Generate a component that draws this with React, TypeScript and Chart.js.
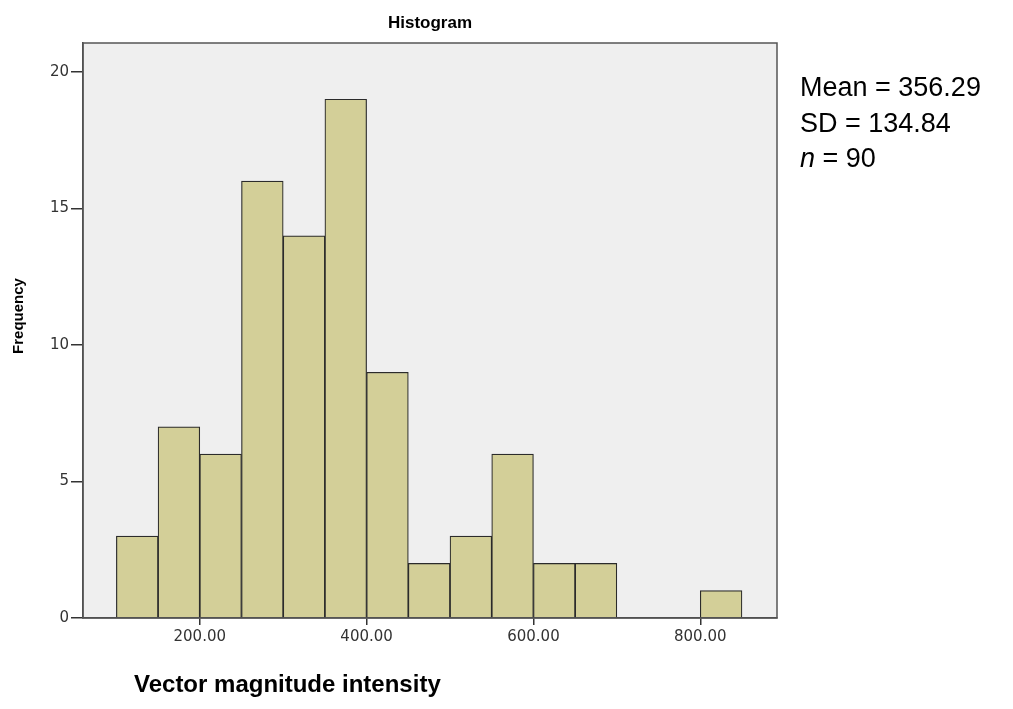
import React, { useEffect, useRef } from "react";
import { Chart, registerables } from "chart.js";

Chart.register(...registerables);

const binStarts = [100, 150, 200, 250, 300, 350, 400, 450, 500, 550, 600, 650, 700, 750, 800];
const binWidth = 50;
const frequencies = [3, 7, 6, 16, 14, 19, 9, 2, 3, 6, 2, 2, 0, 0, 1];
const xTickValues = [200, 400, 600, 800];
const yTickValues = [0, 5, 10, 15, 20];
const statsLines = ["Mean = 356.29", "SD = 134.84", "n = 90"];

const FONT = "Arial, 'Liberation Sans', sans-serif";
const TICK_FONT = "'DejaVu Sans', sans-serif";

const decorPlugin = {
  id: "decor",
  beforeDraw(chart: any) {
    const { ctx, chartArea } = chart;
    ctx.save();
    ctx.fillStyle = "#efefef";
    ctx.fillRect(chartArea.left, chartArea.top, chartArea.right - chartArea.left, chartArea.bottom - chartArea.top);
    ctx.restore();
  },
  afterDraw(chart: any) {
    const { ctx, chartArea } = chart;
    ctx.save();
    ctx.strokeStyle = "#555";
    ctx.lineWidth = 1.5;
    ctx.strokeRect(chartArea.left, chartArea.top, chartArea.right - chartArea.left, chartArea.bottom - chartArea.top);

    ctx.fillStyle = "#000";
    ctx.textAlign = "center";
    ctx.textBaseline = "middle";
    ctx.font = `bold 17px ${FONT}`;
    ctx.fillText("Histogram", (chartArea.left + chartArea.right) / 2, 23);

    ctx.save();
    ctx.translate(19, 316);
    ctx.rotate(-Math.PI / 2);
    ctx.font = `bold 15px ${FONT}`;
    ctx.fillText("Frequency", 0, 0);
    ctx.restore();

    ctx.textAlign = "left";
    ctx.textBaseline = "alphabetic";
    ctx.font = `bold 24px ${FONT}`;
    ctx.fillText("Vector magnitude intensity", 134, 692);

    const size = 27;
    ctx.font = `${size}px ${FONT}`;
    const x0 = chartArea.right + 23;
    const baselines = [96, 131.5, 167];
    statsLines.forEach((line, i) => {
      if (line.startsWith("n ")) {
        ctx.font = `italic ${size}px ${FONT}`;
        ctx.fillText("n", x0, baselines[i]);
        const w = ctx.measureText("n").width;
        ctx.font = `${size}px ${FONT}`;
        ctx.fillText(line.slice(1), x0 + w, baselines[i]);
      } else {
        ctx.fillText(line, x0, baselines[i]);
      }
    });
    ctx.restore();
  },
};

export default function App() {
  const canvasRef = useRef<HTMLCanvasElement | null>(null);

  useEffect(() => {
    document.body.style.margin = "0";
    const canvas = canvasRef.current!;
    const chart = new Chart(canvas, {
      type: "bar",
      data: {
        datasets: [
          {
            data: binStarts.map((s, i) => ({ x: s + binWidth / 2, y: frequencies[i] === 0 ? null : frequencies[i] })) as any,
            backgroundColor: "#d3cf98",
            borderColor: "#2b2b2b",
            borderWidth: 1.2,
            borderSkipped: "bottom",
            barPercentage: 1,
            categoryPercentage: 1,
          },
        ],
      },
      options: {
        animation: false,
        responsive: false,
        maintainAspectRatio: false,
        events: [],
        layout: { padding: { left: 0, top: 43, right: 236, bottom: 0 } },
        plugins: { legend: { display: false }, tooltip: { enabled: false }, title: { display: false } },
        scales: {
          x: {
            type: "linear",
            offset: false,
            min: 60,
            max: 892,
            afterBuildTicks: (scale: any) => {
              scale.ticks = xTickValues.map((v) => ({ value: v }));
            },
            afterFit: (scale: any) => {
              scale.height = 91;
            },
            ticks: {
              autoSkip: false,
              maxRotation: 0,
              padding: 3,
              color: "#333",
              font: { family: TICK_FONT, size: 15 },
              callback: (v: any) => Number(v).toFixed(2),
            },
            grid: { display: true, offset: false, drawOnChartArea: false, drawTicks: true, tickLength: 7, color: "#333", lineWidth: 1.5 },
            border: { display: true, color: "#444", width: 1.5 },
          },
          y: {
            type: "linear",
            min: 0,
            max: 21.06,
            afterBuildTicks: (scale: any) => {
              scale.ticks = yTickValues.map((v) => ({ value: v }));
            },
            afterFit: (scale: any) => {
              scale.width = 83;
            },
            ticks: {
              padding: 2,
              color: "#333",
              font: { family: TICK_FONT, size: 15 },
            },
            grid: { display: true, drawOnChartArea: false, drawTicks: true, tickLength: 12, color: "#333", lineWidth: 1.5 },
            border: { display: true, color: "#444", width: 1.5 },
          },
        },
      },
      plugins: [decorPlugin],
    });
    return () => chart.destroy();
  }, []);

  return (
    <div style={{ position: "fixed", left: 0, top: 0, width: 1013, height: 709, background: "#fff" }}>
      <canvas ref={canvasRef} width={1013} height={709} style={{ width: 1013, height: 709, display: "block" }} />
    </div>
  );
}
